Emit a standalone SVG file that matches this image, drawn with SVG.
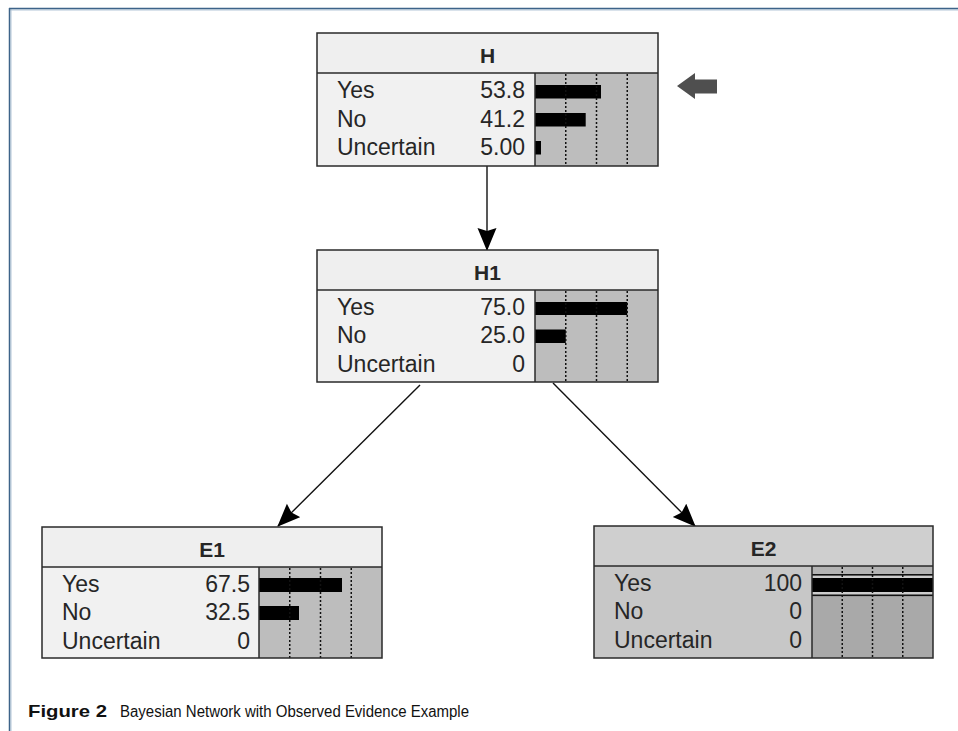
<svg xmlns="http://www.w3.org/2000/svg" width="958" height="731" viewBox="0 0 958 731">
<defs>
<style>
.frame{stroke:#3d6389;stroke-width:1.5;fill:none}
.frame2{stroke:#b3c6d8;stroke-width:1;fill:none}
.box{stroke:#2a2a2a;stroke-width:1.5}
.hd{fill:#efefef}
.bd{fill:#f1f1f1}
.ba{fill:#bdbdbd}
.hdE{fill:#cfcfcf}
.bdE{fill:#c7c7c7}
.baE{fill:#a9a9a9}
.t{font-family:"Liberation Sans",Arial,sans-serif;font-size:23px;fill:#262626}
.v{text-anchor:end}
.ttl{font-family:"Liberation Sans",Arial,sans-serif;font-size:21px;font-weight:bold;fill:#262626;text-anchor:middle}
.bar{fill:#000}
.dot{stroke:#111;stroke-width:1.5;stroke-dasharray:2 2}
.con{stroke:#111;stroke-width:1.4;fill:none}
.cap{font-family:"Liberation Sans",Arial,sans-serif;font-size:17px;fill:#111}
</style>
<marker id="ah" markerUnits="userSpaceOnUse" markerWidth="24" markerHeight="20" refX="22" refY="9.5" orient="auto">
<path d="M0,0 L23,9.5 L0,19 L3,9.5 z" fill="#000"/>
</marker>
</defs>
<rect x="0" y="0" width="958" height="731" fill="#fff"/>
<line class="frame2" x1="10" y1="10" x2="958" y2="10"/>
<line class="frame2" x1="11" y1="9" x2="11" y2="731"/>
<line class="frame" x1="9" y1="8.5" x2="958" y2="8.5"/>
<line class="frame" x1="9.5" y1="8" x2="9.5" y2="731"/>

<g id="connectors">
<line class="con" x1="487" y1="166" x2="487" y2="250" marker-end="url(#ah)"/>
<line class="con" x1="420" y1="385" x2="278" y2="526" marker-end="url(#ah)"/>
<line class="con" x1="553" y1="383" x2="695" y2="526" marker-end="url(#ah)"/>
</g>

<g id="node-H" transform="translate(317,33)">
<rect class="hd" x="0" y="0" width="341" height="40"/>
<rect class="bd" x="0" y="40" width="218" height="93"/>
<rect class="ba" x="218" y="40" width="123" height="93"/>
<rect class="bar" x="218" y="52" width="66" height="13.5"/>
<rect class="bar" x="218" y="80" width="50.7" height="13.5"/>
<rect class="bar" x="218" y="108" width="6" height="13.5"/>
<line class="dot" x1="248.75" y1="41" x2="248.75" y2="133"/>
<line class="dot" x1="279.5" y1="41" x2="279.5" y2="133"/>
<line class="dot" x1="310.25" y1="41" x2="310.25" y2="133"/>
<rect class="box" x="0" y="0" width="341" height="133" fill="none"/>
<line class="box" x1="0" y1="40" x2="341" y2="40"/>
<line class="box" x1="218" y1="40" x2="218" y2="133"/>
<text class="ttl" x="170.5" y="30">H</text>
<text class="t" x="20" y="65">Yes</text>
<text class="t v" x="208" y="65">53.8</text>
<text class="t" x="20" y="94">No</text>
<text class="t v" x="208" y="94">41.2</text>
<text class="t" x="20" y="122">Uncertain</text>
<text class="t v" x="208" y="122">5.00</text>
</g>

<g id="finding-arrow">
<path d="M677,86 L695,73 L695,79.5 L717,79.5 L717,93.5 L695,93.5 L695,99 z" fill="#4f4f4f"/>
</g>

<g id="node-H1" transform="translate(317,250)">
<rect class="hd" x="0" y="0" width="341" height="40"/>
<rect class="bd" x="0" y="40" width="218" height="92"/>
<rect class="ba" x="218" y="40" width="123" height="92"/>
<rect class="bar" x="218" y="52" width="92.25" height="13"/>
<rect class="bar" x="218" y="79.5" width="30.75" height="13.5"/>
<line class="dot" x1="248.75" y1="41" x2="248.75" y2="132"/>
<line class="dot" x1="279.5" y1="41" x2="279.5" y2="132"/>
<line class="dot" x1="310.25" y1="41" x2="310.25" y2="132"/>
<rect class="box" x="0" y="0" width="341" height="132" fill="none"/>
<line class="box" x1="0" y1="40" x2="341" y2="40"/>
<line class="box" x1="218" y1="40" x2="218" y2="132"/>
<text class="ttl" x="170.5" y="30">H1</text>
<text class="t" x="20" y="65">Yes</text>
<text class="t v" x="208" y="65">75.0</text>
<text class="t" x="20" y="93">No</text>
<text class="t v" x="208" y="93">25.0</text>
<text class="t" x="20" y="122">Uncertain</text>
<text class="t v" x="208" y="122">0</text>
</g>

<g id="node-E1" transform="translate(42,527)">
<rect class="hd" x="0" y="0" width="340" height="40"/>
<rect class="bd" x="0" y="40" width="217" height="91"/>
<rect class="ba" x="217" y="40" width="123" height="91"/>
<rect class="bar" x="217" y="51" width="83" height="14"/>
<rect class="bar" x="217" y="79" width="40" height="14"/>
<line class="dot" x1="247.75" y1="41" x2="247.75" y2="131"/>
<line class="dot" x1="278.5" y1="41" x2="278.5" y2="131"/>
<line class="dot" x1="309.25" y1="41" x2="309.25" y2="131"/>
<rect class="box" x="0" y="0" width="340" height="131" fill="none"/>
<line class="box" x1="0" y1="40" x2="340" y2="40"/>
<line class="box" x1="217" y1="40" x2="217" y2="131"/>
<text class="ttl" x="170" y="30">E1</text>
<text class="t" x="20" y="65">Yes</text>
<text class="t v" x="208" y="65">67.5</text>
<text class="t" x="20" y="93">No</text>
<text class="t v" x="208" y="93">32.5</text>
<text class="t" x="20" y="122">Uncertain</text>
<text class="t v" x="208" y="122">0</text>
</g>

<g id="node-E2" transform="translate(594,526)">
<rect class="hdE" x="0" y="0" width="339" height="40"/>
<rect class="bdE" x="0" y="40" width="218" height="92"/>
<rect class="baE" x="218" y="40" width="121" height="92"/>
<rect x="218" y="41" width="121" height="7" fill="#b4b4b4"/>
<rect x="218" y="48" width="121" height="22" fill="#cdcdcd"/>
<rect x="218" y="48" width="121" height="1.6" fill="#111"/>
<rect class="bar" x="218" y="52" width="121" height="14"/>
<rect x="218" y="68.5" width="121" height="1.6" fill="#111"/>
<line class="dot" x1="248.25" y1="41" x2="248.25" y2="132"/>
<line class="dot" x1="278.5" y1="41" x2="278.5" y2="132"/>
<line class="dot" x1="308.75" y1="41" x2="308.75" y2="132"/>
<rect class="box" x="0" y="0" width="339" height="132" fill="none"/>
<line class="box" x1="0" y1="40" x2="339" y2="40"/>
<line class="box" x1="218" y1="40" x2="218" y2="132"/>
<text class="ttl" x="169.5" y="30">E2</text>
<text class="t" x="20" y="65">Yes</text>
<text class="t v" x="208" y="65">100</text>
<text class="t" x="20" y="93">No</text>
<text class="t v" x="208" y="93">0</text>
<text class="t" x="20" y="122">Uncertain</text>
<text class="t v" x="208" y="122">0</text>
</g>

<text class="cap" x="28" y="717"><tspan font-weight="bold" textLength="79" lengthAdjust="spacingAndGlyphs">Figure 2</tspan><tspan x="120" font-size="16" textLength="349" lengthAdjust="spacingAndGlyphs">Bayesian Network with Observed Evidence Example</tspan></text>
</svg>
